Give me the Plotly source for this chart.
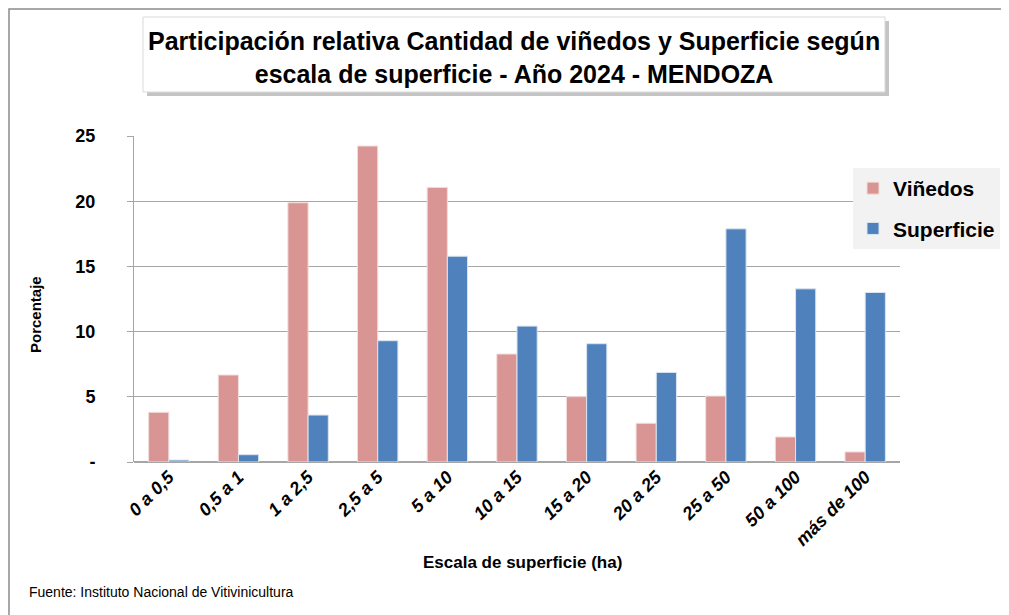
import plotly.graph_objects as go

categories = ["0 a 0,5", "0,5 a 1", "1 a 2,5", "2,5 a 5", "5 a 10", "10 a 15",
              "15 a 20", "20 a 25", "25 a 50", "50 a 100", "más de 100"]
vinedos = [3.81, 6.67, 19.88, 24.23, 21.06, 8.28, 5.01, 2.97, 5.06, 1.92, 0.77]
superficie = [0.15, 0.56, 3.60, 9.30, 15.78, 10.42, 9.07, 6.87, 17.88, 13.28, 13.00]
ytick_vals = [0, 5, 10, 15, 20, 25]
ytick_text = ["-", "5", "10", "15", "20", "25"]

FONT = "Liberation Sans Narrow, Arial Narrow, Liberation Sans, sans-serif"
OFF = 8  # page body margin offset
W, H = 1009 - OFF, 615 - OFF
L, T = 134 - OFF, 136 - OFF
pw, ph = 766, 326
R = W - L - pw
B = H - T - ph


def fx(x):
    """reference pixel x -> paper x"""
    return (x - OFF - L) / pw


def fy(y):
    """reference pixel y -> paper y"""
    return (H - B - (y - OFF)) / ph


fig = go.Figure()
fig.add_trace(go.Bar(name="Viñedos", x=categories, y=vinedos, legendgroup="v",
                     marker=dict(color="#d99594", line=dict(color="#f2dcdb", width=1))))
fig.add_trace(go.Bar(name="Superficie", x=categories, y=superficie, legendgroup="s",
                     marker=dict(color="#4f81bd", line=dict(color="#dbe5f1", width=1))))

shapes = [
    # outer chart border (top & left edges visible)
    dict(type="rect", xref="paper", yref="paper",
         x0=fx(9), x1=fx(1040), y0=fy(650), y1=fy(9),
         line=dict(color="#8c8c8c", width=1.5), fillcolor="rgba(0,0,0,0)", layer="below"),
    # title box shadow
    dict(type="rect", xref="paper", yref="paper",
         x0=fx(147), x1=fx(889), y0=fy(96), y1=fy(21),
         line=dict(width=0), fillcolor="#c4c4c4", layer="below"),
    # title box
    dict(type="rect", xref="paper", yref="paper",
         x0=fx(143), x1=fx(885), y0=fy(92), y1=fy(17),
         line=dict(color="#d9d9d9", width=1), fillcolor="white", layer="below"),
]

fig.update_layout(
    width=W, height=H,
    margin=dict(l=L, r=R, t=T, b=B, autoexpand=False),
    paper_bgcolor="white", plot_bgcolor="white",
    barmode="group", bargap=0.42, bargroupgap=0,
    shapes=shapes,
    font=dict(family=FONT, color="black"),
    showlegend=True,
    legend=dict(x=fx(853), y=fy(168), xanchor="left", yanchor="top",
                bgcolor="#f2f2f2", font=dict(size=21, family=FONT, color="black", weight="bold"),
                itemwidth=30, tracegroupgap=10),
    xaxis=dict(showline=False, tickangle=-45, ticks="",
               tickfont=dict(size=18, family=FONT, weight="bold", style="italic")),
    yaxis=dict(range=[0, 25], tickvals=ytick_vals, ticktext=ytick_text,
               showgrid=True, gridcolor="#a6a6a6", gridwidth=1,
               showline=True, linecolor="#a6a6a6", linewidth=1,
               ticks="outside", ticklen=6, tickcolor="#a6a6a6",
               ticklabelstandoff=28,
               zeroline=True, zerolinecolor="#a6a6a6",
               tickfont=dict(size=18, family=FONT, weight="bold")),
    annotations=[
        dict(text="Participación relativa Cantidad de viñedos y Superficie según<br>escala de superficie - Año 2024 - MENDOZA",
             xref="paper", yref="paper", x=fx(514), y=fy(57), xanchor="center", yanchor="middle",
             showarrow=False, align="center",
             font=dict(size=25, family=FONT, weight="bold", color="black")),
        dict(text="Porcentaje", textangle=-90,
             xref="paper", yref="paper", x=fx(35), y=fy(315), xanchor="center", yanchor="middle",
             showarrow=False, font=dict(size=15, family=FONT, weight="bold", color="black")),
        dict(text="Escala de superficie (ha)",
             xref="paper", yref="paper", x=fx(522), y=fy(562), xanchor="center", yanchor="middle",
             showarrow=False, font=dict(size=17, family=FONT, weight="bold", color="black")),
        dict(text="Fuente: Instituto Nacional de Vitivinicultura",
             xref="paper", yref="paper", x=fx(27), y=fy(592), xanchor="left", yanchor="middle",
             showarrow=False, font=dict(size=14, family=FONT, color="black")),
    ],
)

fig.write_html("out.html")
